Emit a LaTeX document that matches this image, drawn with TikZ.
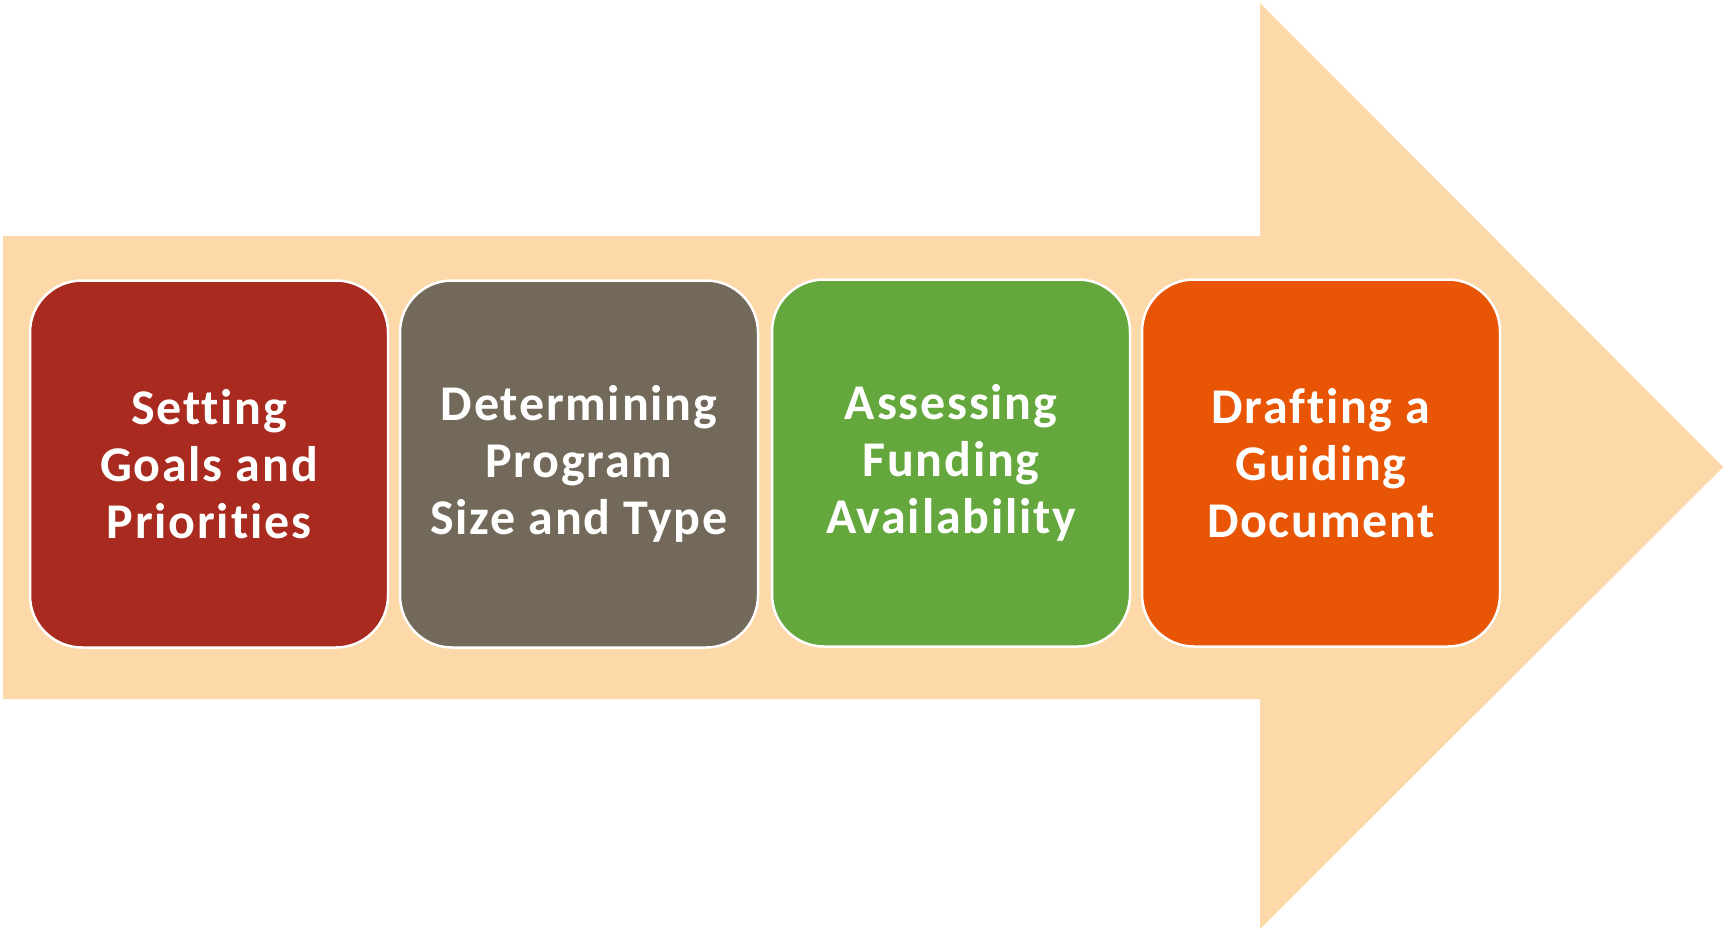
\documentclass[tikz,border=0pt]{standalone}
\usepackage{fontspec}
\setmainfont[Ligatures=NoCommon, LetterSpace=3.5]{Carlito}
\usepackage{xcolor}

\definecolor{peach}{HTML}{FDD8A8}
\definecolor{goalred}{HTML}{A92A1F}
\definecolor{sizegray}{HTML}{72695A}
\definecolor{fundgreen}{HTML}{64A83D}
\definecolor{docorange}{HTML}{E85505}

\tikzset{
  stepbox/.style={rectangle, rounded corners=52pt, draw=white, line width=2.5pt,
    minimum width=358pt, minimum height=367pt, inner sep=0pt, align=center,
    text=white, font=\fontsize{50}{57}\selectfont\bfseries}
}

\begin{document}
\begin{tikzpicture}[x=1pt, y=-1pt]
  \useasboundingbox (0,0) rectangle (1734,929);

  % big arrow behind the steps
  \fill[peach] (3,236) -- (1260,236) -- (1260,3) -- (1723,467) -- (1260,929)
    -- (1260,699) -- (3,699) -- cycle;

  \node[stepbox, fill=goalred] (A) at (209,464) {Setting\\Goals and\\Priorities};
  \node[stepbox, fill=sizegray] (B) at (579,464) {Determining\\Program\\Size and Type};
  \node[stepbox, fill=fundgreen] (C) at (951,463) {Assessing\\Funding\\Availability};
  \node[stepbox, fill=docorange] (D) at (1321,463) {Drafting a\\Guiding\\Document};
\end{tikzpicture}
\end{document}
